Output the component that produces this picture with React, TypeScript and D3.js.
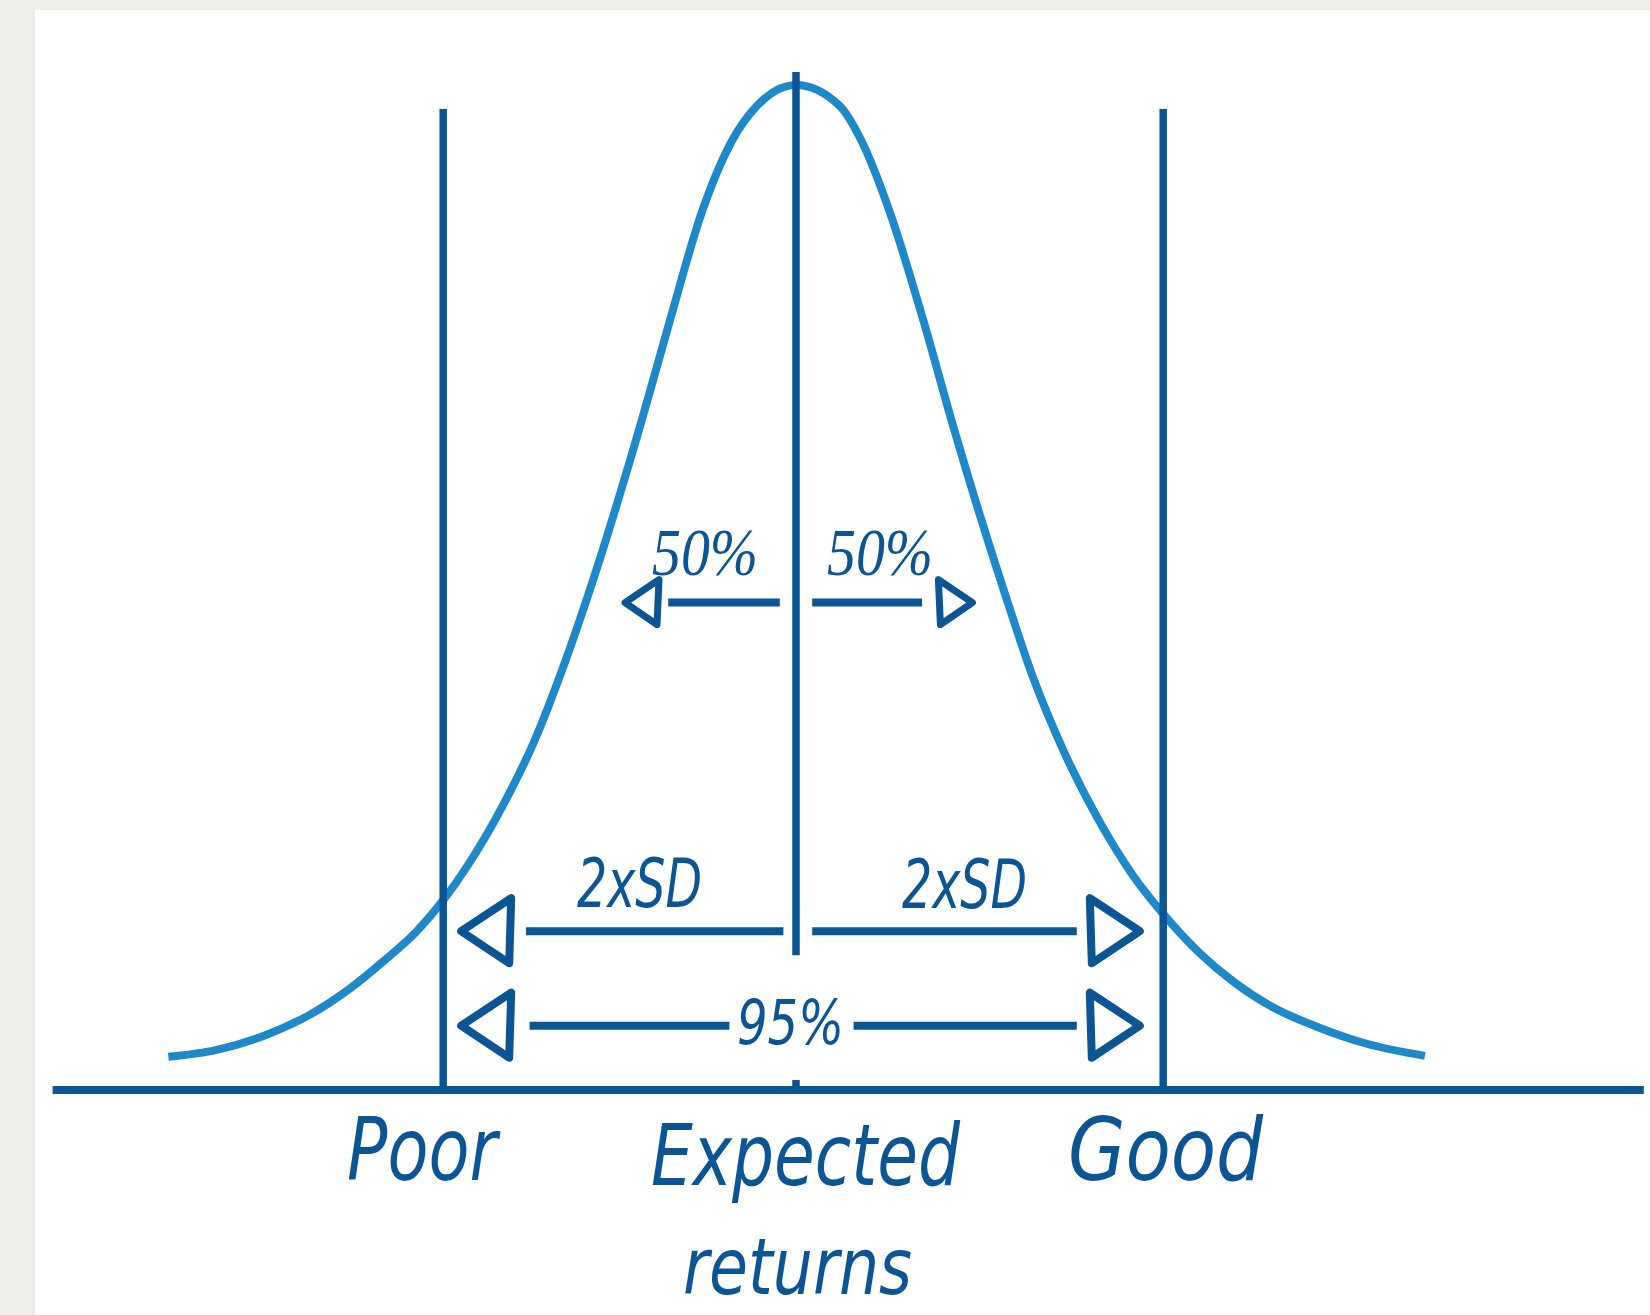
import React from "react";
import * as d3 from "d3";

// curve: x in SD units from the mean, y as share of the peak
const curveX = [-3.487, -3.218, -2.941, -2.7, -2.478, -2.293, -2.107, -1.959, -1.829, -1.626, -1.459, -1.293, -1.163,
  -0.867, -0.7, -0.524, -0.357, -0.218, 0,
  0.244, 0.365, 0.522, 0.707, 0.874, 1.171, 1.318, 1.485, 1.671, 1.874, 2.041, 2.244, 2.429, 2.652, 2.893, 3.171, 3.494];
const curveY = [0.033, 0.04, 0.055, 0.075, 0.101, 0.128, 0.158, 0.189, 0.222, 0.284, 0.345, 0.421, 0.488,
  0.66, 0.766, 0.873, 0.944, 0.979, 1.0,
  0.979, 0.944, 0.873, 0.766, 0.66, 0.488, 0.41, 0.338, 0.272, 0.213, 0.175, 0.136, 0.108, 0.082, 0.063, 0.046, 0.034];

// vertical markers
const markerNames = ["Poor", "Expected", "Good"];
const markerX = [-1.96, 0, 2.04];
const markerTop = [0.976, 1.013, 0.976];

// arrows: level, inner/outer ends of each shaft, arrowhead tips
const arrowNames = ["50%", "2xSD", "95%"];
const arrowLevel = [0.485, 0.158, 0.064];
const arrowShaftLeft = [[-0.71, -0.09], [-1.5, -0.07], [-1.48, -0.37]];
const arrowShaftRight = [[0.09, 0.7], [0.09, 1.56], [0.32, 1.56]];
const arrowTip = [[-0.95, 0.98], [-1.86, 1.91], [-1.86, 1.91]];

const axisExtent = [-4.13, 4.71];

const DARK = "#0b5595";
const LIGHT = "#1e88c9";

function App() {
  const width = 1650;
  const height = 1315;

  const x = d3.scaleLinear().domain([-2, 2]).range([436, 1156]);
  const y = d3.scaleLinear().domain([0, 1]).range([1090, 85]);

  const pts: [number, number][] = curveX.map((v, i) => [v, curveY[i]]);
  const line = d3
    .line<[number, number]>()
    .x((d) => x(d[0]))
    .y((d) => y(d[1]))
    .curve(d3.curveMonotoneX);

  // hand drawn style open triangle
  const head = (tip: number, lvl: number, dir: number, big: boolean) => {
    const len = big ? 50 : 34;
    const half = big ? 30 : 20;
    const tx = x(tip);
    const ty = y(lvl);
    const bx = tx + dir * len;
    return `M${tx},${ty} L${bx},${ty - half - 3} L${bx - dir * 2},${ty + half + 2} Z`;
  };

  const script = "'Liberation Sans Narrow', 'DejaVu Sans Condensed', 'Liberation Sans', sans-serif";
  const serif = "'Liberation Serif', 'DejaVu Serif', serif";

  return (
    <svg
      width={width}
      height={height}
      style={{ position: "absolute", left: 0, top: 0, display: "block" }}
    >
      <rect x={0} y={0} width={width} height={height} fill="#eeede9" />
      <rect x={35} y={10} width={width - 35} height={height - 10} fill="#ffffff" />

      {/* bell curve */}
      <path d={line(pts) || ""} fill="none" stroke={LIGHT} strokeWidth={8} />

      {/* baseline */}
      <line x1={x(axisExtent[0])} x2={x(axisExtent[1])} y1={y(0)} y2={y(0)} stroke={DARK} strokeWidth={8} />

      {/* Poor / Good lines */}
      {[0, 2].map((i) => (
        <line key={markerNames[i]} x1={x(markerX[i])} x2={x(markerX[i])} y1={y(markerTop[i])} y2={y(0)} stroke={DARK} strokeWidth={7.5} />
      ))}
      {/* mean line and its tick */}
      <line x1={x(markerX[1])} x2={x(markerX[1])} y1={y(markerTop[1])} y2={y(0.134)} stroke={DARK} strokeWidth={7.5} />
      <line x1={x(markerX[1])} x2={x(markerX[1])} y1={y(0.01)} y2={y(0)} stroke={DARK} strokeWidth={7.5} />

      {/* arrows */}
      {arrowNames.map((name, i) => (
        <g key={name + i}>
          <line x1={x(arrowShaftLeft[i][0])} x2={x(arrowShaftLeft[i][1])} y1={y(arrowLevel[i])} y2={y(arrowLevel[i])} stroke={DARK} strokeWidth={8} />
          <line x1={x(arrowShaftRight[i][0])} x2={x(arrowShaftRight[i][1])} y1={y(arrowLevel[i])} y2={y(arrowLevel[i])} stroke={DARK} strokeWidth={8} />
          <path d={head(arrowTip[i][0], arrowLevel[i], 1, i > 0)} fill="#fff" stroke={DARK} strokeWidth={i > 0 ? 8 : 7} strokeLinejoin="round" />
          <path d={head(arrowTip[i][1], arrowLevel[i], -1, i > 0)} fill="#fff" stroke={DARK} strokeWidth={i > 0 ? 8 : 7} strokeLinejoin="round" />
        </g>
      ))}

      {/* 50% labels */}
      <g fill={DARK} fontFamily={serif} fontStyle="italic" fontSize={68}>
        <text x={652} y={575} textLength={106} lengthAdjust="spacingAndGlyphs">{arrowNames[0]}</text>
        <text x={827} y={575} textLength={106} lengthAdjust="spacingAndGlyphs">{arrowNames[0]}</text>
      </g>

      {/* hand written labels */}
      <g fill={DARK} fontFamily={script} fontStyle="italic">
        <text x={577} y={907} fontSize={68} textLength={125} lengthAdjust="spacingAndGlyphs">{arrowNames[1]}</text>
        <text x={902} y={908} fontSize={68} textLength={125} lengthAdjust="spacingAndGlyphs">{arrowNames[1]}</text>
        <text x={737} y={1044} fontSize={62} textLength={107} lengthAdjust="spacingAndGlyphs">{arrowNames[2]}</text>

        <text x={347} y={1180} fontSize={88} textLength={150} lengthAdjust="spacingAndGlyphs">{markerNames[0]}</text>
        <text x={651} y={1185} fontSize={86} textLength={309} lengthAdjust="spacingAndGlyphs">{markerNames[1]}</text>
        <text x={683} y={1294} fontSize={78} textLength={229} lengthAdjust="spacingAndGlyphs">returns</text>
        <text x={1068} y={1180} fontSize={88} textLength={195} lengthAdjust="spacingAndGlyphs">{markerNames[2]}</text>
      </g>
    </svg>
  );
}

export default App;
